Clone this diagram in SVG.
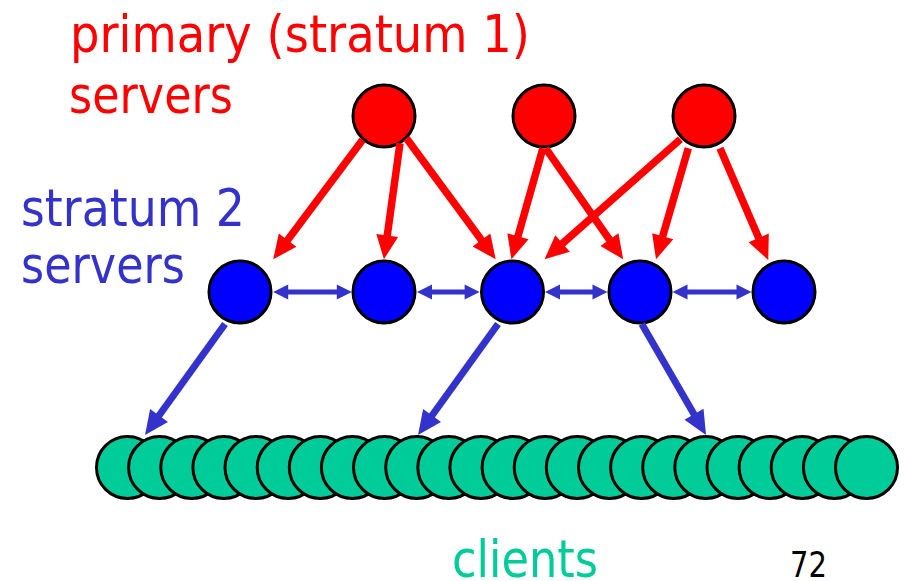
<svg xmlns="http://www.w3.org/2000/svg" width="907" height="581" viewBox="0 0 907 581">
<style>
  .lbl { font-family: "DejaVu Sans", "Liberation Sans", sans-serif; font-size: 52px; }
  .red { fill: #FF0000; }
  .blue { fill: #3333CC; }
  .green { fill: #00CC99; }
  .s1 { fill: #FF0000; stroke: #000; stroke-width: 3; }
  .s2 { fill: #0000FF; stroke: #000; stroke-width: 3; }
  .cl { fill: #00CC99; stroke: #000; stroke-width: 3; }
  .ra { stroke: #FF0000; stroke-width: 7.5; fill: none; marker-end: url(#rh); }
  .ba { stroke: #3333CC; stroke-width: 7; fill: none; marker-end: url(#bh); }
  .pa { stroke: #3333CC; stroke-width: 5; fill: none; marker-start: url(#sh); marker-end: url(#sh); }
</style>
<defs>
  <marker id="rh" markerUnits="userSpaceOnUse" markerWidth="24" markerHeight="22" refX="9" refY="11" orient="auto" overflow="visible">
    <path d="M0,0 L24,11 L0,22 z" fill="#FF0000"/>
  </marker>
  <marker id="bh" markerUnits="userSpaceOnUse" markerWidth="24" markerHeight="22" refX="9" refY="11" orient="auto" overflow="visible">
    <path d="M0,0 L24,11 L0,22 z" fill="#3333CC"/>
  </marker>
  <marker id="sh" markerUnits="userSpaceOnUse" markerWidth="15" markerHeight="15" refX="7" refY="7.5" orient="auto-start-reverse" overflow="visible">
    <path d="M0,0 L15,7.5 L0,15 z" fill="#3333CC"/>
  </marker>
</defs>

<g id="labels">
  <text class="lbl red" x="70" y="52" textLength="460" lengthAdjust="spacingAndGlyphs">primary (stratum 1)</text>
  <text class="lbl red" x="69" y="113" textLength="164" lengthAdjust="spacingAndGlyphs">servers</text>
  <text class="lbl blue" x="21" y="226" textLength="224" lengthAdjust="spacingAndGlyphs">stratum 2</text>
  <text class="lbl blue" x="21" y="283" textLength="164" lengthAdjust="spacingAndGlyphs">servers</text>
  <text class="lbl green" x="452" y="577" textLength="146" lengthAdjust="spacingAndGlyphs">clients</text>
  <text x="790" y="577" font-family="DejaVu Sans, Liberation Sans, sans-serif" font-size="36" fill="#000" textLength="37" lengthAdjust="spacingAndGlyphs">72</text>
</g>

<g id="primary-servers">
  <circle id="p1" class="s1" cx="384" cy="116" r="31"/>
  <circle id="p2" class="s1" cx="544" cy="116" r="31"/>
  <circle id="p3" class="s1" cx="704" cy="116" r="31"/>
</g>

<g id="stratum2-servers">
  <circle id="s1" class="s2" cx="240" cy="292" r="31"/>
  <circle id="s2" class="s2" cx="384" cy="292" r="31"/>
  <circle id="s3" class="s2" cx="512.5" cy="292" r="31"/>
  <circle id="s4" class="s2" cx="640" cy="292" r="31"/>
  <circle id="s5" class="s2" cx="784" cy="292" r="31"/>
</g>

<g id="clients">
  <circle class="cl" cx="127.5" cy="467.5" r="31"/>
  <circle class="cl" cx="159.6" cy="467.5" r="31"/>
  <circle class="cl" cx="191.8" cy="467.5" r="31"/>
  <circle class="cl" cx="223.9" cy="467.5" r="31"/>
  <circle class="cl" cx="256.0" cy="467.5" r="31"/>
  <circle class="cl" cx="288.2" cy="467.5" r="31"/>
  <circle class="cl" cx="320.3" cy="467.5" r="31"/>
  <circle class="cl" cx="352.4" cy="467.5" r="31"/>
  <circle class="cl" cx="384.5" cy="467.5" r="31"/>
  <circle class="cl" cx="416.7" cy="467.5" r="31"/>
  <circle class="cl" cx="448.8" cy="467.5" r="31"/>
  <circle class="cl" cx="480.9" cy="467.5" r="31"/>
  <circle class="cl" cx="513.1" cy="467.5" r="31"/>
  <circle class="cl" cx="545.2" cy="467.5" r="31"/>
  <circle class="cl" cx="577.3" cy="467.5" r="31"/>
  <circle class="cl" cx="609.5" cy="467.5" r="31"/>
  <circle class="cl" cx="641.6" cy="467.5" r="31"/>
  <circle class="cl" cx="673.7" cy="467.5" r="31"/>
  <circle class="cl" cx="705.8" cy="467.5" r="31"/>
  <circle class="cl" cx="738.0" cy="467.5" r="31"/>
  <circle class="cl" cx="770.1" cy="467.5" r="31"/>
  <circle class="cl" cx="802.2" cy="467.5" r="31"/>
  <circle class="cl" cx="834.4" cy="467.5" r="31"/>
  <circle class="cl" cx="866.5" cy="467.5" r="31"/>
</g>

<g id="connectors">
  <line class="ra" x1="362.5" y1="140" x2="282.2" y2="247.3"/>
  <line class="ra" x1="400" y1="143.3" x2="386.0" y2="244.4"/>
  <line class="ra" x1="406.4" y1="138.3" x2="486.8" y2="247.2"/>
  <line class="ra" x1="542.9" y1="148.3" x2="515.5" y2="244.9"/>
  <line class="ra" x1="545.7" y1="148.3" x2="614.6" y2="247.0"/>
  <line class="ra" x1="680.4" y1="139.3" x2="555.8" y2="249.4"/>
  <line class="ra" x1="688.3" y1="148.3" x2="660.2" y2="244.9"/>
  <line class="ra" x1="720" y1="148.3" x2="762.3" y2="246.2"/>

  <line class="pa" x1="281.2" y1="292" x2="343.8" y2="292"/>
  <line class="pa" x1="425" y1="292" x2="471.6" y2="292"/>
  <line class="pa" x1="553" y1="292" x2="599.5" y2="292"/>
  <line class="pa" x1="680.5" y1="292" x2="743.5" y2="292"/>

  <line class="ba" x1="225" y1="324" x2="153.8" y2="422.8"/>
  <line class="ba" x1="498" y1="324" x2="426.8" y2="422.8"/>
  <line class="ba" x1="641.8" y1="324" x2="698.5" y2="422.0"/>
</g>
</svg>
